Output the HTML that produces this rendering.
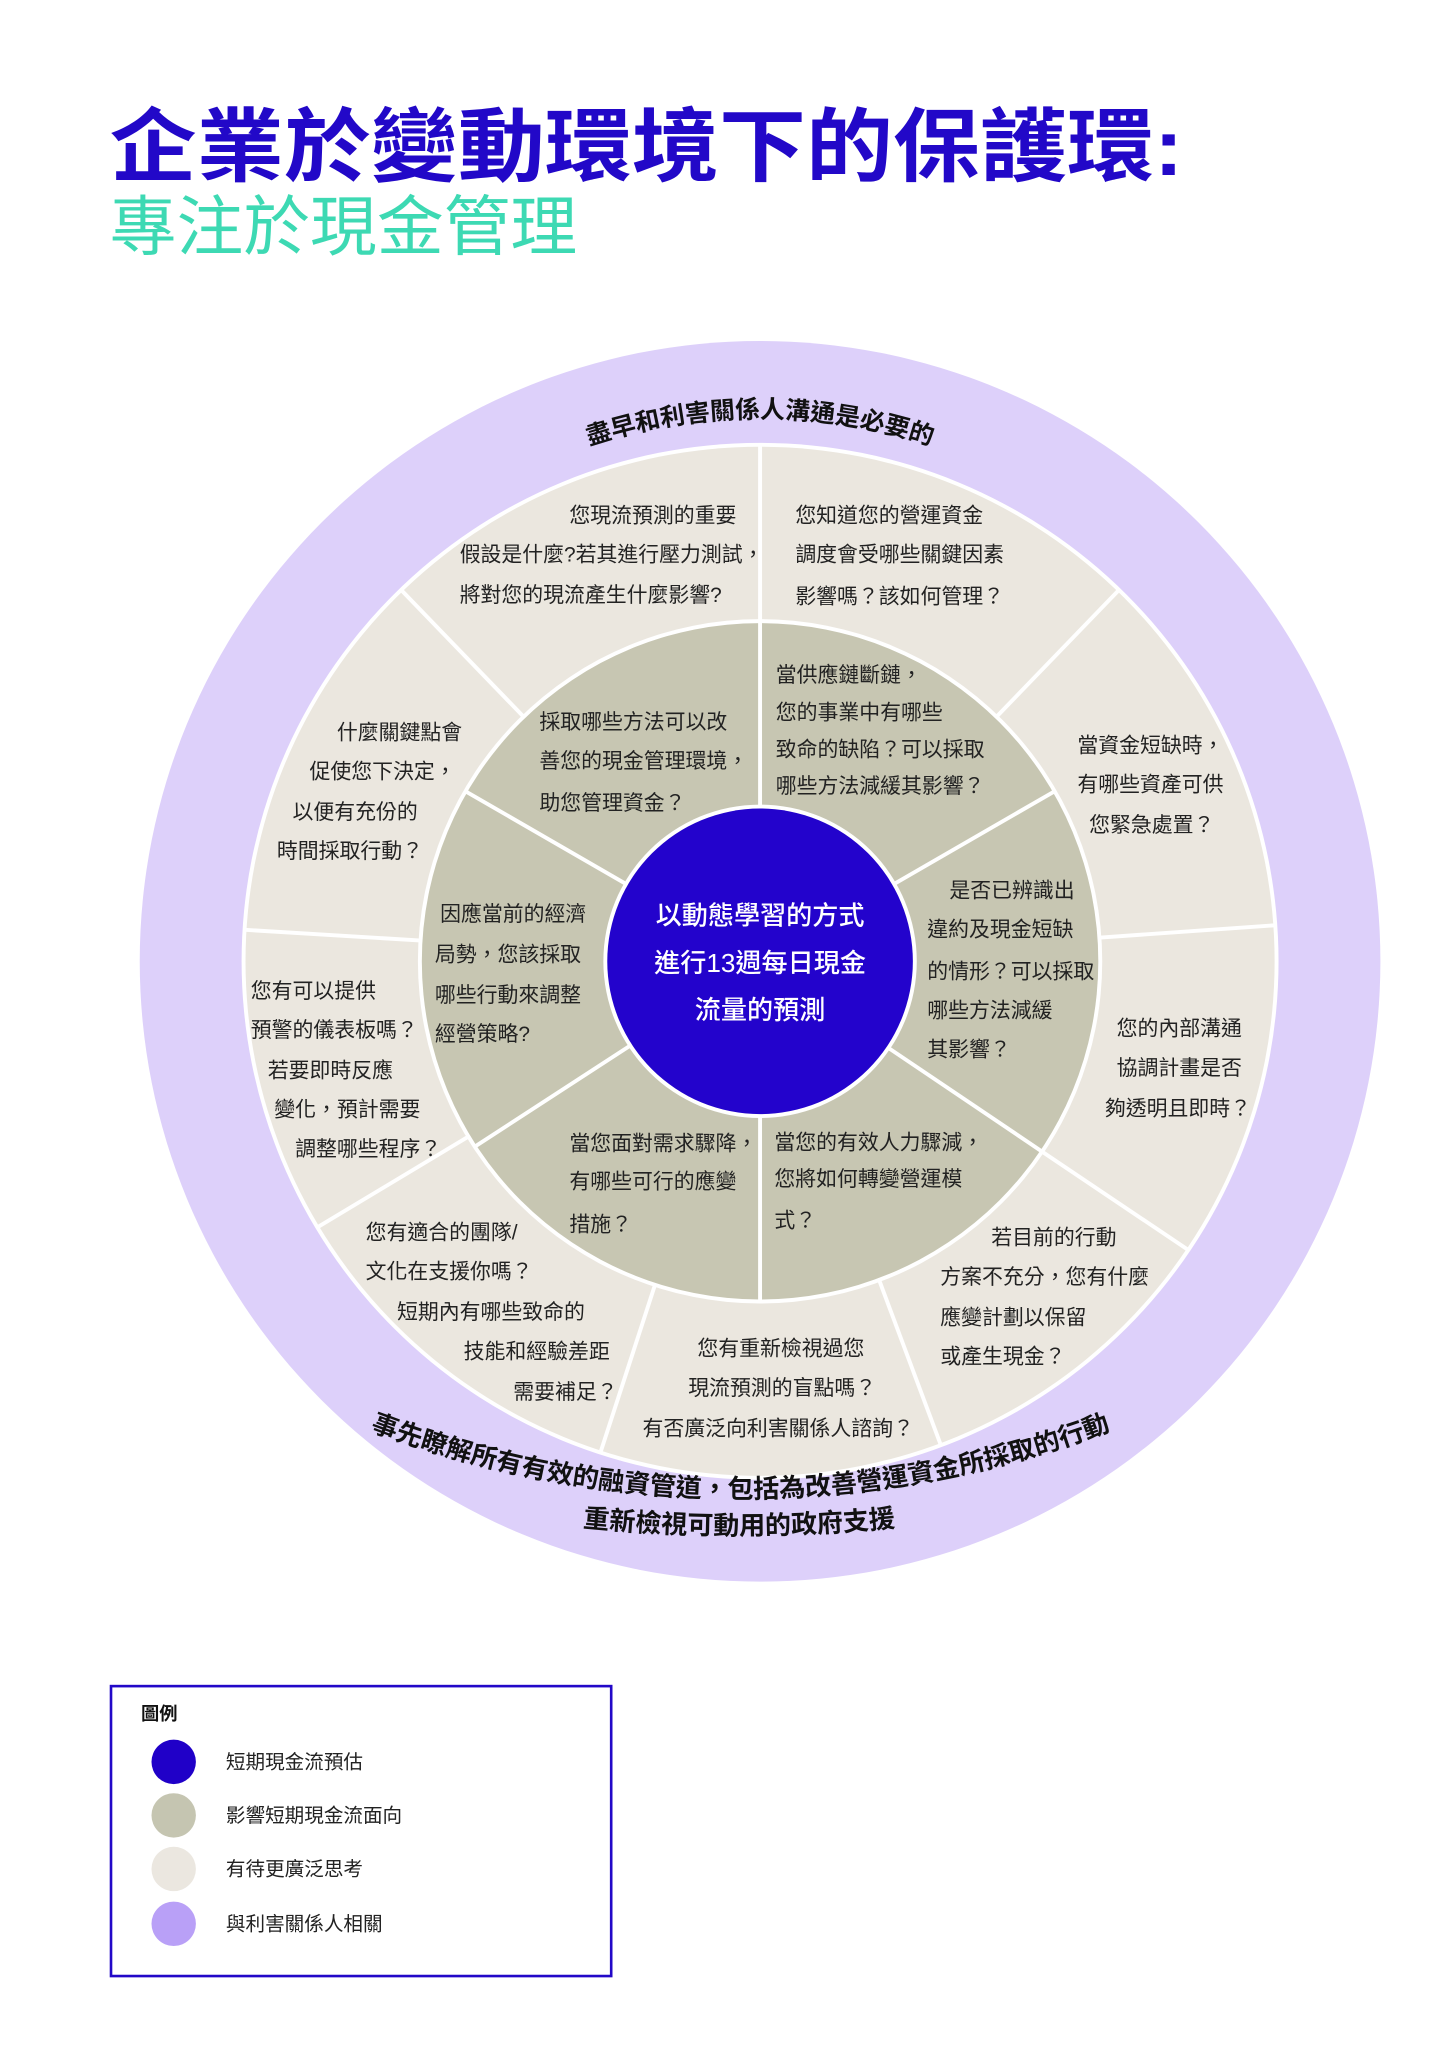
<!DOCTYPE html>
<html><head><meta charset="utf-8"><style>
html,body{margin:0;padding:0;background:#fff;width:1447px;height:2048px;overflow:hidden;}
svg{display:block;}
text{font-family:"Liberation Sans","Noto Sans CJK TC",sans-serif;}
.q{font-size:16px;fill:#222;}
</style></head><body><svg width="1447" height="2048" viewBox="0 0 1108 1568" xmlns="http://www.w3.org/2000/svg">
<text x="84" y="134" font-size="62" font-weight="700" fill="#2208c8" textLength="822" lengthAdjust="spacingAndGlyphs">企業於變動環境下的保護環:</text>
<text x="84" y="191" font-size="50" font-weight="400" fill="#3dd9b3" textLength="358" lengthAdjust="spacingAndGlyphs">專注於現金管理</text>

<circle cx="582" cy="736" r="475" fill="#ddd0fa"/>
<circle cx="582" cy="736" r="397" fill="#fff"/>
<circle cx="582" cy="736" r="394" fill="#ebe7df"/>
<circle cx="582" cy="736" r="262" fill="#fff"/>
<circle cx="582" cy="736" r="259" fill="#c7c6b2"/>
<circle cx="582" cy="736" r="120" fill="#fff"/>
<circle cx="582" cy="736" r="117" fill="#2303cc"/>
<g stroke="#fff" stroke-width="3">
<line x1="582" y1="476" x2="582" y2="341"/>
<line x1="762.7" y1="549.1" x2="856.5" y2="452"/>
<line x1="841.4" y1="717.9" x2="976.1" y2="708.4"/>
<line x1="797.5" y1="881.4" x2="909.5" y2="956.8"/>
<line x1="673" y1="979.6" x2="720.3" y2="1106.1"/>
<line x1="501.7" y1="983.3" x2="459.9" y2="1111.7"/>
<line x1="359.2" y1="869.9" x2="243.5" y2="939.4"/>
<line x1="322.5" y1="720.1" x2="187.8" y2="711.9"/>
<line x1="401.3" y1="549.1" x2="307.5" y2="452"/>
<line x1="582" y1="618" x2="582" y2="476"/>
<line x1="684.2" y1="677" x2="807.2" y2="606"/>
<line x1="679.8" y1="802" x2="797.5" y2="881.4"/>
<line x1="582" y1="854" x2="582" y2="996"/>
<line x1="483" y1="800.3" x2="363.9" y2="877.7"/>
<line x1="479.8" y1="677" x2="356.8" y2="606"/>
</g>
<defs>
<path id="topArc" d="M166,736 A416,416 0 0 1 998,736"/>
<path id="botArc1" d="M-233,347 A800,800 0 0 0 1367,347"/>
<path id="botArc2" d="M-634,-25 A1200,1200 0 0 0 1766,-25"/>
</defs>
<g font-size="19" font-weight="700" fill="#111">
<text><textPath href="#topArc" startOffset="50%" text-anchor="middle">盡早和利害關係人溝通是必要的</textPath></text>
</g>
<g font-size="20" font-weight="700" fill="#111">
<text><textPath href="#botArc1" startOffset="50%" text-anchor="middle">事先瞭解所有有效的融資管道，包括為改善營運資金所採取的行動</textPath></text>
<text><textPath href="#botArc2" startOffset="50%" text-anchor="middle">重新檢視可動用的政府支援</textPath></text>
</g>

<g class="q">
<text x="436" y="400">您現流預測的重要</text>
<text x="352" y="430">假設是什麼?若其進行壓力測試，</text>
<text x="352" y="461">將對您的現流產生什麼影響?</text>
<text x="609" y="400">您知道您的營運資金</text>
<text x="609" y="430">調度會受哪些關鍵因素</text>
<text x="609" y="462">影響嗎？該如何管理？</text>
<text x="258" y="566">什麼關鍵點會</text>
<text x="237" y="596">促使您下決定，</text>
<text x="224" y="627">以便有充份的</text>
<text x="212" y="657">時間採取行動？</text>
<text x="825" y="576">當資金短缺時，</text>
<text x="825" y="606">有哪些資產可供</text>
<text x="834" y="637">您緊急處置？</text>
<text x="192" y="764">您有可以提供</text>
<text x="192" y="794">預警的儀表板嗎？</text>
<text x="205" y="825">若要即時反應</text>
<text x="210" y="855">變化，預計需要</text>
<text x="226" y="885">調整哪些程序？</text>
<text x="855" y="793">您的內部溝通</text>
<text x="855" y="823">協調計畫是否</text>
<text x="846" y="854">夠透明且即時？</text>
<text x="280" y="949">您有適合的團隊/</text>
<text x="280" y="979">文化在支援你嗎？</text>
<text x="304" y="1010">短期內有哪些致命的</text>
<text x="355" y="1040">技能和經驗差距</text>
<text x="393" y="1071">需要補足？</text>
<text x="534" y="1038">您有重新檢視過您</text>
<text x="527" y="1068">現流預測的盲點嗎？</text>
<text x="492" y="1099">有否廣泛向利害關係人諮詢？</text>
<text x="759" y="953">若目前的行動</text>
<text x="720" y="983">方案不充分，您有什麼</text>
<text x="720" y="1014">應變計劃以保留</text>
<text x="720" y="1044">或產生現金？</text>

<text x="413" y="558">採取哪些方法可以改</text>
<text x="413" y="588">善您的現金管理環境，</text>
<text x="413" y="620">助您管理資金？</text>
<text x="594" y="522">當供應鏈斷鏈，</text>
<text x="594" y="551">您的事業中有哪些</text>
<text x="594" y="579">致命的缺陷？可以採取</text>
<text x="594" y="607">哪些方法減緩其影響？</text>
<text x="337" y="705">因應當前的經濟</text>
<text x="333" y="736">局勢，您該採取</text>
<text x="333" y="767">哪些行動來調整</text>
<text x="333" y="797">經營策略?</text>
<text x="727" y="687">是否已辨識出</text>
<text x="710" y="717">違約及現金短缺</text>
<text x="710" y="749">的情形？可以採取</text>
<text x="710" y="779">哪些方法減緩</text>
<text x="710" y="809">其影響？</text>
<text x="436" y="881">當您面對需求驟降，</text>
<text x="436" y="910">有哪些可行的應變</text>
<text x="436" y="943">措施？</text>
<text x="593" y="880">當您的有效人力驟減，</text>
<text x="593" y="908">您將如何轉變營運模</text>
<text x="593" y="940">式？</text>
</g>
<g font-size="20" font-weight="500" fill="#fff" text-anchor="middle">
<text x="582" y="708">以動態學習的方式</text>
<text x="582" y="744">進行13週每日現金</text>
<text x="582" y="780">流量的預測</text>
</g>

<rect x="85" y="1291" width="383" height="222" fill="none" stroke="#2208c8" stroke-width="2"/>
<text x="108" y="1317" font-size="14" font-weight="700" fill="#111">圖例</text>
<circle cx="133" cy="1349" r="17" fill="#2000c8"/>
<circle cx="133" cy="1390" r="17" fill="#c5c5b1"/>
<circle cx="133" cy="1431" r="17" fill="#ebe7e0"/>
<circle cx="133" cy="1473" r="17" fill="#b9a0f7"/>
<g font-size="15" fill="#222">
<text x="173" y="1354">短期現金流預估</text>
<text x="173" y="1395">影響短期現金流面向</text>
<text x="173" y="1436">有待更廣泛思考</text>
<text x="173" y="1478">與利害關係人相關</text>
</g>
</svg></body></html>
